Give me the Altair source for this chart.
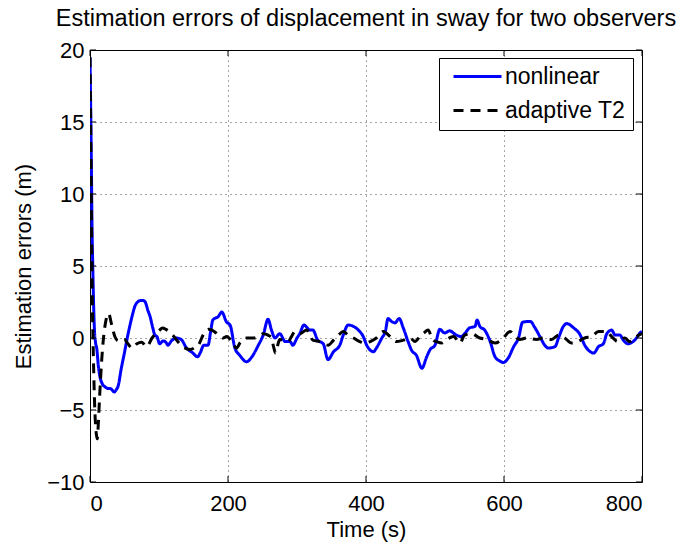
import altair as alt
import pandas as pd

# ---- data ----
nl_t = [0, 1, 2, 3, 4, 5, 6.5, 8, 10, 12, 14.5, 18, 22, 26, 29, 32, 35, 38, 41, 45, 50, 54, 58, 62, 65, 69, 73, 77, 80, 84, 87, 91, 94, 97,
        101, 106, 110, 113, 118, 125, 132, 140, 148, 156, 160, 165, 171, 175, 178, 186, 191, 198, 203, 210, 217, 227, 234, 244, 251,
        258, 263, 268, 275, 283, 290, 294, 300, 304, 310, 319, 323, 330, 338, 345, 353, 362, 367, 374, 382, 389, 396, 401, 411, 415,
        423, 428, 432, 437, 442, 448, 454, 461, 466, 473, 481, 488, 493, 500, 507, 514, 521, 531, 538, 543, 550, 558, 561, 565, 572,
        580, 587, 594, 599, 606, 614, 621, 627, 638, 645, 652, 659, 664, 674, 679, 686, 691, 701, 710, 717, 725, 730, 737, 744, 749,
        756, 761, 768, 773, 780, 787, 792, 798, 800]
nl_v = [19.5, 16, 12, 7.5, 5, 2.8, 0.5, -0.3, -0.8, -1.9, -2.7, -3.2, -3.4, -3.5, -3.5, -3.6, -3.75, -3.6, -3.3, -2.2, -1.0, 0.0, 0.9,
        1.7, 2.2, 2.5, 2.6, 2.6, 2.5, 1.9, 1.5, 0.7, 0.2, 0.1,
        -0.4, -0.2, -0.3, -0.5, -0.2, 0.0, -0.1, -0.7, -1.0, -1.3, -1.0, -0.5, -0.5, 0.5, 1.25, 1.5, 1.8, 1.1, 0.9, -0.7, -1.2, -1.65,
        -1.35, -0.5, 0.2,
        1.3, 0.55, 0.0, 0.3, -0.25, -0.25, -0.5, 0.0, 0.3, 0.9, 0.55, 0.55, -0.15, -0.4, -1.5, -0.95, -0.5, 0.2, 0.9, 0.8, 0.55, 0.1,
        -0.5, -0.95, -0.7,
        0.0, 0.45, 1.35, 1.15, 1.05, 1.35, 0.7, -0.25, -0.85, -1.2, -2.1, -1.3, -0.8, -0.5, 0.6, 0.35, 0.5, 0.2, 0.1, 0.3, 0.7, 0.8,
        1.25, 0.8, 0.55,
        -0.25, -1.3, -1.6, -1.7, -1.4, -0.6, 0.0, 1.1, 1.15, 0.7, 0.1, -0.5, -0.7, -0.6, 0.0, 0.8, 1.0, 0.7, 0.25, -0.5, -0.95, -1.05,
        -0.6, -0.4, 0.3,
        0.55, 0.2, 0.2, -0.15, -0.4, -0.25, 0.0, 0.4, 0.45]

ad_t = [0, 1.5, 3, 5, 7, 9, 10.5, 12, 14, 17, 20, 23, 27, 31, 36, 41, 46, 50, 55, 61, 68, 75, 82, 90, 95, 100, 105, 110, 120, 130,
        138, 145, 151, 157, 165, 172, 180, 186, 193, 198, 207, 212, 218, 227, 237, 244, 251, 258, 263, 266, 269, 272, 275, 281, 287,
        292, 297, 304, 314, 318, 323, 333, 345, 353, 360, 367, 374, 382, 391, 399, 406, 415, 425, 435, 444, 454, 464, 471, 478, 484,
        490, 497, 502, 510, 517, 527, 536, 543, 553, 565, 575, 587, 597, 609, 616, 623, 633, 647, 657, 669, 679, 688, 698, 707, 717,
        727, 737, 749, 756, 765, 775, 782, 792, 800]
ad_v = [19.5, 12, 4, -1.5, -5, -6.6, -7.0, -6, -4, -1.5, 0.2, 1.2, 1.7, 1.0, 0.1, -0.2, -0.1, -0.1, -0.4, -0.7, -0.4, -0.3, -0.6,
        0.0, 0.3, 0.5, 0.7, 0.6, 0.2, -0.4,
        -0.7, -0.8, -0.7, -0.5, 0.3, 0.6, 0.45, 0.2, 0.0, 0.1, -0.35, -0.7, -0.3, 0.0, 0.0, 0.1, 0.3, 0.2, 0.0, -0.6, -1.05, -0.5,
        -0.1, -0.2, -0.25,
        0.1, 0.45, 0.3, 0.55, 0.3, -0.15, -0.25, -0.5, -0.15, 0.2, 0.45, 0.2, 0.0, -0.25, -0.35, -0.25, 0.0, 0.45, 0.1, -0.25, -0.15,
        0.0, -0.25, 0.1, 0.35,
        0.55, -0.15, -0.25, -0.35, -0.1, 0.1, -0.35, 0.2, 0.3, 0.0, -0.1, -0.35, -0.1, 0.45, 0.1, -0.1, 0.0, -0.1, 0.0, -0.1, 0.2,
        0.0, -0.35, -0.25, 0.0,
        0.1, 0.45, 0.45, 0.1, -0.25, 0.0, -0.25, 0.1, 0.3]

series_names = ["nonlinear", "adaptive T2"]
x_ticks = [0, 200, 400, 600, 800]
y_ticks = [-10, -5, 0, 5, 10, 15, 20]

FONT = "Liberation Sans"
FS = 22
W, H = 552, 432

rows = []
for t, v in zip(nl_t, nl_v):
    rows.append({"t": t, "v": v, "s": series_names[0]})
for t, v in zip(ad_t, ad_v):
    rows.append({"t": t, "v": v, "s": series_names[1]})
df = pd.DataFrame(rows)

xscale = alt.Scale(domain=[0, 800], nice=False, zero=False)
yscale = alt.Scale(domain=[-10, 20], nice=False, zero=False)

leg = dict(title=None, orient="none", legendX=349, legendY=8,
           symbolType="M-0.5,0H5.5", symbolSize=256, symbolStrokeWidth=3,
           labelFont=FONT, labelFontSize=23, labelColor="#000", labelOffset=36, rowPadding=10,
           padding=7, strokeColor="#000", fillColor="#fff")

lines = alt.Chart(df).mark_line(strokeWidth=3, clip=True, strokeCap="butt", interpolate="monotone").encode(
    x=alt.X("t:Q", scale=xscale, title="Time (s)",
            axis=alt.Axis(values=x_ticks, grid=True, gridDash=[1, 4], gridColor="#000", gridOpacity=0.7,
                          domain=False, ticks=False, labelPadding=11, titlePadding=5,
                          labelFont=FONT, labelFontSize=FS, labelColor="#000",
                          titleFont=FONT, titleFontSize=FS, titleFontWeight="normal", titleColor="#000")),
    y=alt.Y("v:Q", scale=yscale, title="Estimation errors (m)",
            axis=alt.Axis(values=y_ticks, grid=True, gridDash=[1, 4], gridColor="#000", gridOpacity=0.7,
                          domain=False, ticks=False, labelPadding=6, titlePadding=11,
                          labelFont=FONT, labelFontSize=FS, labelColor="#000",
                          titleFont=FONT, titleFontSize=FS, titleFontWeight="normal", titleColor="#000")),
    color=alt.Color("s:N", scale=alt.Scale(domain=series_names, range=["#0000ff", "#000000"]),
                    legend=alt.Legend(**leg)),
    strokeDash=alt.StrokeDash("s:N", scale=alt.Scale(domain=series_names, range=[[1, 0], [10, 7]]),
                              legend=alt.Legend(**leg)),
    order="t:Q",
)

xt = pd.DataFrame({"t": x_ticks})
yt = pd.DataFrame({"v": y_ticks})
bottom_ticks = alt.Chart(xt).mark_rule(color="#000", strokeWidth=1).encode(
    x=alt.X("t:Q", scale=xscale), y=alt.value(H), y2=alt.value(H - 6))
top_ticks = alt.Chart(xt).mark_rule(color="#000", strokeWidth=1).encode(
    x=alt.X("t:Q", scale=xscale), y=alt.value(0), y2=alt.value(6))
left_ticks = alt.Chart(yt).mark_rule(color="#000", strokeWidth=1).encode(
    y=alt.Y("v:Q", scale=yscale), x=alt.value(0), x2=alt.value(6))
right_ticks = alt.Chart(yt).mark_rule(color="#000", strokeWidth=1).encode(
    y=alt.Y("v:Q", scale=yscale), x=alt.value(W), x2=alt.value(W - 6))

chart = alt.layer(lines, bottom_ticks, top_ticks, left_ticks, right_ticks).properties(
    width=W, height=H,
    background="#ffffff",
    title=alt.TitleParams("Estimation errors of displacement in sway for two observers",
                          font=FONT, fontSize=23.5, fontWeight="normal", color="#000", offset=9, anchor="middle"),
    autosize=alt.AutoSizeParams(type="none"),
    padding={"left": 90, "top": 50, "right": 42, "bottom": 62},
).configure_view(stroke="#000", strokeWidth=1)

chart.save("out.html", embed_options={"renderer": "svg", "actions": False})
